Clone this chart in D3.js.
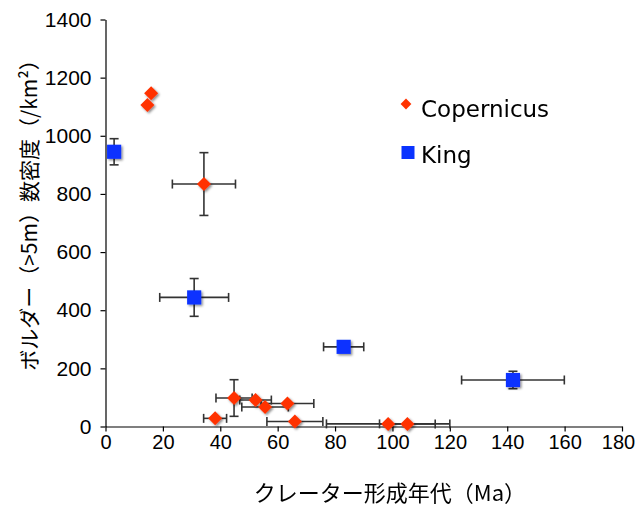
<!DOCTYPE html>
<html>
<head>
<meta charset="utf-8">
<script src="https://cdn.jsdelivr.net/npm/d3@7"></script>
<style>
  html, body { margin: 0; padding: 0; background: #fff; }
  svg { display: block; }
</style>
</head>
<body>
<script>
// ---- data ----
const seriesNames = ["Copernicus", "King"];
const copX    = [14.6, 15.9, 34.3, 44.8, 52.3, 55.6, 63.4, 38.2, 66.0, 98.5, 105.2];
const copY    = [1106, 1146, 834, 98, 91, 67, 79, 28, 17, 9, 9];
const copXErr = [0, 0, 11, 6.3, 5.5, 8.1, 9.2, 4, 9.75, 21.5, 9.7];
const copYErr = [0, 0, 108, 63, 0, 0, 0, 0, 0, 0, 0];
const kingX    = [3.0, 30.9, 83.0, 142.0];
const kingY    = [945, 444, 274, 160];
const kingXErr = [0, 12.0, 7.0, 17.9];
const kingYErr = [45, 65, 0, 30];
const xTicks = [0, 20, 40, 60, 80, 100, 120, 140, 160, 180];
const yTicks = [0, 200, 400, 600, 800, 1000, 1200, 1400];
const xLabel = "クレーター形成年代（Ma）";
const yLabel = "ボルダー（>5m）数密度（/km²）";

const W = 635, H = 507;
const svg = d3.select("body").append("svg").attr("width", W).attr("height", H);

const defs = svg.append("defs");
const f = defs.append("filter").attr("id", "sh").attr("x", "-50%").attr("y", "-50%").attr("width", "200%").attr("height", "200%");
f.append("feDropShadow").attr("dx", 1.5).attr("dy", 1.5).attr("stdDeviation", 1.3)
  .attr("flood-color", "#000").attr("flood-opacity", 0.45);

const x = d3.scaleLinear().domain([0, 180]).range([105.5, 622]);
const y = d3.scaleLinear().domain([0, 1400]).range([426.5, 19.5]);

const tickFont = "'Liberation Sans', Arial, sans-serif";
const legendFont = "'DejaVu Sans', sans-serif";

// axes
const gx = svg.append("g").attr("transform", `translate(0,${y(0)})`)
  .call(d3.axisBottom(x).tickValues(xTicks).tickFormat(d3.format("d")).tickSize(5).tickSizeOuter(0).tickPadding(3));
const gy = svg.append("g").attr("transform", `translate(${x(0)},0)`)
  .call(d3.axisLeft(y).tickValues(yTicks).tickFormat(d3.format("d")).tickSize(5).tickSizeOuter(0).tickPadding(9));
[gx, gy].forEach(g => {
  g.selectAll("path, line").attr("stroke", "#000").attr("stroke-width", 1.2);
  g.selectAll("text").attr("font-family", tickFont).attr("fill", "#000");
});
gx.selectAll("text").attr("font-size", 20);
gy.selectAll("text").attr("font-size", 21);
gx.selectAll(".tick:last-of-type text").attr("dx", -4);

// error bars
const red = "#ff3300", blue = "#0a33ff";
const cap = 4.5;
function errBars(xs, ys, xe, ye) {
  const g = svg.append("g").attr("stroke", "#333").attr("stroke-width", 1.6).attr("fill", "none");
  xs.forEach((xv, i) => {
    const cx = x(xv), cy = y(ys[i]);
    if (xe[i] > 0) {
      const x1 = x(xv - xe[i]), x2 = x(xv + xe[i]);
      g.append("line").attr("x1", x1).attr("x2", x2).attr("y1", cy).attr("y2", cy);
      g.append("line").attr("x1", x1).attr("x2", x1).attr("y1", cy - cap).attr("y2", cy + cap);
      g.append("line").attr("x1", x2).attr("x2", x2).attr("y1", cy - cap).attr("y2", cy + cap);
    }
    if (ye[i] > 0) {
      const y1 = y(ys[i] - ye[i]), y2 = y(ys[i] + ye[i]);
      g.append("line").attr("x1", cx).attr("x2", cx).attr("y1", y1).attr("y2", y2);
      g.append("line").attr("x1", cx - cap).attr("x2", cx + cap).attr("y1", y1).attr("y2", y1);
      g.append("line").attr("x1", cx - cap).attr("x2", cx + cap).attr("y1", y2).attr("y2", y2);
    }
  });
}
errBars(copX, copY, copXErr, copYErr);
errBars(kingX, kingY, kingXErr, kingYErr);

// markers
const diamond = d3.symbol().type(d3.symbolSquare).size(98)();
const square = d3.symbol().type(d3.symbolSquare).size(200)();
svg.append("g").attr("filter", "url(#sh)").selectAll("path").data(copX).join("path")
  .attr("d", diamond).attr("fill", red)
  .attr("transform", (d, i) => `translate(${x(d)},${y(copY[i])}) rotate(45)`);
svg.append("g").attr("filter", "url(#sh)").selectAll("path").data(kingX).join("path")
  .attr("d", square).attr("fill", blue)
  .attr("transform", (d, i) => `translate(${x(d)},${y(kingY[i])})`);

// legend
const lg = svg.append("g");
lg.append("path").attr("d", d3.symbol().type(d3.symbolSquare).size(58)()).attr("fill", red)
  .attr("transform", "translate(406,104) rotate(45)");
lg.append("text").attr("x", 421).attr("y", 117).text(seriesNames[0])
  .attr("font-family", legendFont).attr("font-size", 23).attr("fill", "#000");
lg.append("path").attr("d", d3.symbol().type(d3.symbolSquare).size(169)()).attr("fill", blue)
  .attr("transform", "translate(408,152.5)");
lg.append("text").attr("x", 421).attr("y", 163).text(seriesNames[1])
  .attr("font-family", legendFont).attr("font-size", 23).attr("fill", "#000");

// axis titles
const cjk = "'Noto Sans CJK JP', sans-serif";
svg.append("text").attr("x", 390).attr("y", 491).attr("text-anchor", "middle")
  .attr("dominant-baseline", "central").attr("font-family", cjk).attr("font-size", 22)
  .attr("fill", "#000").text(xLabel);
svg.append("text").attr("transform", "translate(28,210) rotate(-90)").attr("text-anchor", "middle")
  .attr("dominant-baseline", "central").attr("font-family", cjk).attr("font-size", 21)
  .attr("fill", "#000").text(yLabel);
</script>
</body>
</html>
